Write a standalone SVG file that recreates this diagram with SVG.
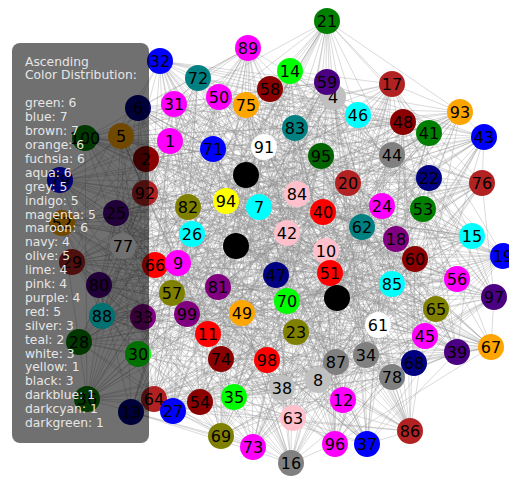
<svg xmlns="http://www.w3.org/2000/svg" width="509" height="477" viewBox="0 0 509 477">
<style>
.e polygon{fill:none;stroke:#8c8c8c;stroke-width:.6;stroke-opacity:.55;stroke-linejoin:round}
.n text{font-family:"DejaVu Sans",sans-serif;font-size:16px;text-anchor:middle;fill:#000}
.lg text{font-family:"DejaVu Sans",sans-serif;font-size:12.3px;fill:#e6e6e6}
.green{fill:#008000}.dkgreen{fill:#006400}.blue{fill:#0000ff}.brown{fill:#b22222}.orange{fill:#ffa500}.mag{fill:#ff00ff}.aqua{fill:#00ffff}.grey{fill:#808080}.indigo{fill:#4b0082}.maroon{fill:#8b0000}.navy{fill:#000080}.olive{fill:#808000}.lime{fill:#00ff00}.pink{fill:#ffc0cb}.purple{fill:#800080}.red{fill:#ff0000}.silver{fill:#c0c0c0}.teal{fill:#008080}.white{fill:#ffffff}.yellow{fill:#ffff00}.black{fill:#000000}
</style>
<rect width="509" height="477" fill="#ffffff"/>
<g id="connectors" class="e">
<polygon points="327,21 290,71 392,84 333,97 138,108 403,122 85,138 170,141 392,155 246,175 348,183 297,194 259,207 323,212 362,227 472,236 236,246 415,259 155,265 457,279 218,287 337,298 242,313 143,317 208,334 491,347 366,355 336,362 318,380 87,399 200,402 293,418 335,444 291,463 160,61 327,82 219,97 174,104 358,115 429,133 484,137 213,149 146,159 429,178 145,193 188,207 423,209 62,223 192,234 123,246 503,256 178,263 276,275 99,285 494,297 436,309 102,316 296,332 79,342 138,354 267,360 392,377 234,397 343,400 131,412 221,436 253,447 248,48 198,78 270,89 246,105 460,112 295,128 121,136 264,147 321,156 60,180 482,183 226,201 382,206 116,213 287,233 396,239 326,251 72,262 330,273 392,284 172,293 287,301 187,314 378,325 425,336 457,352 221,359 414,363 282,388 154,399 173,411 410,431 367,444"/>
<polygon points="327,21 270,89 358,115 170,141 60,180 188,207 362,227 326,251 276,275 337,298 378,325 138,354 318,380 173,411 253,447 327,82 138,108 121,136 146,159 297,194 116,213 123,246 155,265 172,293 102,316 491,347 414,363 343,400 335,444 290,71 246,105 429,133 392,155 482,183 423,209 472,236 72,262 99,285 242,313 425,336 267,360 87,399 410,431 248,48 219,97 403,122 264,147 429,178 259,207 287,233 503,256 457,279 287,301 296,332 366,355 282,388 131,412 291,463 392,84 460,112 484,137 246,175 226,201 62,223 236,246 330,273 494,297 143,317 457,352 392,377 200,402 367,444 198,78 174,104 85,138 321,156 145,193 323,212 396,239 178,263 218,287 187,314 79,342 336,362 154,399 221,436 160,61 333,97 295,128 213,149 348,183 382,206 192,234 415,259 392,284 436,309 208,334 221,359 234,397 293,418"/>
<polygon points="327,21 460,112 146,159 323,212 72,262 436,309 366,355 173,411 198,78 429,133 348,183 287,233 276,275 143,317 414,363 221,436 219,97 170,141 226,201 123,246 218,287 425,336 234,397 291,463 138,108 321,156 423,209 415,259 287,301 138,354 200,402 290,71 295,128 429,178 362,227 330,273 102,316 336,362 410,431 270,89 484,137 297,194 396,239 99,285 208,334 282,388 253,447 174,104 392,155 382,206 503,256 337,298 457,352 343,400 160,61 403,122 60,180 62,223 155,265 187,314 267,360 293,418 392,84 121,136 145,193 472,236 392,284 296,332 318,380 367,444 246,105 213,149 259,207 326,251 494,297 491,347 154,399 248,48 358,115 246,175 116,213 178,263 242,313 221,359 131,412 327,82 85,138 482,183 192,234 457,279 378,325 392,377 335,444 333,97 264,147 188,207 236,246 172,293 79,342 87,399"/>
<polygon points="327,21 170,141 362,227 337,298 318,380 327,82 146,159 123,246 102,316 343,400 246,105 482,183 72,262 425,336 410,431 403,122 259,207 457,279 366,355 291,463 484,137 62,223 494,297 392,377 198,78 321,156 396,239 187,314 154,399 333,97 348,183 415,259 208,334 293,418 358,115 188,207 276,275 138,354 253,447 121,136 116,213 172,293 414,363 290,71 392,155 472,236 242,313 87,399 219,97 429,178 503,256 296,332 131,412 460,112 226,201 330,273 457,352 367,444 85,138 323,212 218,287 336,362 160,61 213,149 192,234 436,309 234,397 270,89 60,180 326,251 378,325 173,411 138,108 297,194 155,265 491,347 335,444 429,133 423,209 99,285 267,360 248,48 264,147 287,233 287,301 282,388 392,84 246,175 236,246 143,317 200,402 174,104 145,193 178,263 79,342 221,436 295,128 382,206 392,284 221,359"/>
<polygon points="327,21 246,175 155,265 336,362 219,97 188,207 494,297 343,400 295,128 287,233 378,325 367,444 392,155 415,259 366,355 327,82 145,193 99,285 234,397 460,112 116,213 187,314 410,431 170,141 236,246 491,347 160,61 429,178 276,275 392,377 246,105 382,206 287,301 173,411 85,138 472,236 208,334 291,463 146,159 178,263 267,360 270,89 226,201 172,293 154,399 403,122 362,227 143,317 335,444 213,149 503,256 138,354 198,78 482,183 392,284 282,388 138,108 323,212 242,313 293,418 484,137 123,246 79,342 248,48 60,180 330,273 414,363 333,97 259,207 337,298 200,402 429,133 192,234 296,332 253,447 321,156 72,262 221,359 392,84 297,194 218,287 87,399 358,115 62,223 102,316 221,436 264,147 326,251 457,352 290,71 348,183 457,279 318,380 174,104 423,209 436,309 131,412 121,136 396,239 425,336"/>
<polygon points="327,21 297,194 242,313 291,463 145,193 436,309 253,447 482,183 287,301 367,444 348,183 337,298 335,444 429,178 494,297 221,436 60,180 172,293 410,431 246,175 218,287 293,418 146,159 99,285 131,412 321,156 392,284 173,411 392,155 457,279 200,402 213,149 276,275 343,400 264,147 330,273 154,399 170,141 155,265 87,399 484,137 178,263 234,397 121,136 72,262 282,388 85,138 415,259 318,380 429,133 503,256 392,377 295,128 326,251 414,363 403,122 236,246 336,362 358,115 123,246 267,360 460,112 396,239 221,359 138,108 472,236 366,355 174,104 192,234 138,354 246,105 287,233 457,352 333,97 362,227 491,347 219,97 62,223 79,342 270,89 116,213 425,336 392,84 323,212 208,334 327,82 423,209 296,332 198,78 382,206 378,325 290,71 259,207 143,317 160,61 188,207 102,316 248,48 226,201 187,314"/>
<polygon points="327,21 323,212 366,355 429,133 276,275 221,436 226,201 425,336 138,108 415,259 200,402 429,178 102,316 270,89 396,239 282,388 392,155 337,298 160,61 62,223 267,360 121,136 392,284 367,444 259,207 491,347 358,115 178,263 131,412 482,183 378,325 333,97 236,246 87,399 146,159 436,309 198,78 287,233 414,363 170,141 218,287 291,463 423,209 138,354 295,128 330,273 410,431 297,194 208,334 174,104 503,256 343,400 60,180 187,314 392,84 472,236 318,380 213,149 494,297 248,48 116,213 221,359 85,138 457,279 335,444 188,207 79,342 460,112 72,262 173,411 348,183 143,317 219,97 123,246 234,397 321,156 287,301 290,71 362,227 336,362 484,137 99,285 253,447 382,206 457,352 403,122 155,265 293,418 145,193 296,332 246,105 326,251 154,399 246,175 242,313 327,82 192,234 392,377 264,147 172,293"/>
<polygon points="327,21 123,246 410,431 62,223 154,399 188,207 414,363 429,178 457,352 213,149 378,325 429,133 287,301 174,104 392,284 327,82 72,262 291,463 396,239 293,418 116,213 87,399 226,201 336,362 60,180 491,347 264,147 143,317 295,128 337,298 246,105 457,279 198,78 415,259 253,447 472,236 131,412 323,212 234,397 297,194 267,360 246,175 79,342 170,141 102,316 403,122 494,297 333,97 276,275 290,71 503,256 367,444 192,234 173,411 423,209 282,388 145,193 221,359 146,159 425,336 484,137 187,314 358,115 172,293 219,97 330,273 160,61 326,251 335,444 287,233 200,402 382,206 318,380 482,183 366,355 321,156 208,334 121,136 242,313 460,112 218,287 270,89 155,265 248,48 236,246 221,436 362,227 343,400 259,207 392,377 348,183 138,354 392,155 296,332 85,138 436,309 138,108 99,285 392,84 178,263"/>
<polygon points="327,21 174,104 264,147 297,194 192,234 330,273 242,313 138,354 154,399 291,463 246,105 170,141 145,193 287,233 155,265 436,309 457,352 87,399 253,447 333,97 484,137 482,183 362,227 178,263 287,301 491,347 234,397 367,444 219,97 121,136 348,183 62,223 72,262 337,298 79,342 282,388 335,444 270,89 85,138 429,178 116,213 415,259 494,297 425,336 318,380 221,436 392,84 429,133 60,180 323,212 503,256 172,293 208,334 392,377 410,431 327,82 295,128 246,175 423,209 326,251 218,287 296,332 414,363 293,418 198,78 403,122 146,159 382,206 236,246 99,285 378,325 336,362 131,412 290,71 358,115 321,156 259,207 123,246 392,284 143,317 267,360 173,411 160,61 460,112 392,155 188,207 396,239 457,279 102,316 221,359 200,402 248,48 138,108 213,149 226,201 472,236 276,275 187,314 366,355 343,400"/>
<polygon points="327,21 429,133 226,201 415,259 102,316 282,388 160,61 121,136 259,207 178,263 378,325 87,399 198,78 170,141 423,209 330,273 208,334 343,400 392,84 213,149 116,213 457,279 79,342 173,411 219,97 321,156 362,227 99,285 457,352 293,418 246,105 246,175 192,234 172,293 366,355 221,436 138,108 429,178 396,239 337,298 267,360 367,444 358,115 482,183 236,246 436,309 414,363 291,463 295,128 297,194 503,256 187,314 318,380 248,48 85,138 188,207 72,262 143,317 234,397 290,71 484,137 382,206 155,265 296,332 154,399 327,82 264,147 323,212 276,275 425,336 200,402 270,89 392,155 62,223 392,284 491,347 131,412 333,97 146,159 287,233 218,287 138,354 410,431 174,104 60,180 472,236 494,297 221,359 335,444 460,112 348,183 123,246 287,301 336,362 253,447 403,122 145,193 326,251 242,313 392,377"/>
<polygon points="327,21 287,233 234,397 429,178 208,334 403,122 392,284 248,48 192,234 87,399 348,183 425,336 295,128 99,285 160,61 472,236 154,399 482,183 79,342 429,133 218,287 290,71 396,239 343,400 145,193 491,347 85,138 172,293 198,78 123,246 200,402 297,194 457,352 121,136 494,297 327,82 236,246 173,411 226,201 138,354 484,137 337,298 392,84 326,251 131,412 188,207 366,355 170,141 287,301 270,89 503,256 293,418 259,207 221,359 264,147 436,309 219,97 415,259 410,431 382,206 267,360 213,149 242,313 333,97 72,262 221,436 423,209 336,362 392,155 187,314 246,105 178,263 335,444 323,212 414,363 321,156 102,316 174,104 155,265 367,444 116,213 392,377 146,159 143,317 138,108 330,273 253,447 62,223 318,380 246,175 378,325 460,112 276,275 291,463 362,227 282,388 60,180 296,332 358,115 457,279"/>
<polygon points="327,21 482,183 494,297 293,418 392,155 330,273 234,397 429,133 236,246 221,359 246,105 62,223 208,334 290,71 226,201 436,309 335,444 246,175 392,284 343,400 484,137 415,259 414,363 460,112 192,234 491,347 392,84 382,206 102,316 291,463 348,183 172,293 131,412 213,149 155,265 282,388 295,128 123,246 366,355 333,97 116,213 296,332 160,61 297,194 287,301 221,436 146,159 457,279 154,399 121,136 503,256 336,362 138,108 287,233 79,342 327,82 259,207 187,314 253,447 429,178 218,287 173,411 264,147 178,263 318,380 403,122 396,239 138,354 219,97 323,212 378,325 248,48 145,193 337,298 410,431 321,156 276,275 87,399 85,138 326,251 267,360 174,104 362,227 425,336 198,78 188,207 242,313 367,444 60,180 99,285 200,402 170,141 72,262 392,377 358,115 472,236 457,352 270,89 423,209 143,317"/>
</g>
<g id="nodes">
<g id="n21" class="n"><circle class="green" cx="327" cy="21" r="13"/><text x="327" y="27">21</text></g>
<g id="n89" class="n"><circle class="mag" cx="248" cy="48" r="13"/><text x="248" y="54">89</text></g>
<g id="n32" class="n"><circle class="blue" cx="160" cy="61" r="13"/><text x="160" y="67">32</text></g>
<g id="n14" class="n"><circle class="lime" cx="290" cy="71" r="13"/><text x="290" y="77">14</text></g>
<g id="n72" class="n"><circle class="teal" cx="198" cy="78" r="13"/><text x="198" y="84">72</text></g>
<g id="n4" class="n"><circle class="silver" cx="333" cy="97" r="13"/><text x="333" y="103">4</text></g>
<g id="n59" class="n"><circle class="indigo" cx="327" cy="82" r="13"/><text x="327" y="88">59</text></g>
<g id="n17" class="n"><circle class="brown" cx="392" cy="84" r="13"/><text x="392" y="90">17</text></g>
<g id="n58" class="n"><circle class="maroon" cx="270" cy="89" r="13"/><text x="270" y="95">58</text></g>
<g id="n50" class="n"><circle class="mag" cx="219" cy="97" r="13"/><text x="219" y="103">50</text></g>
<g id="n75" class="n"><circle class="orange" cx="246" cy="105" r="13"/><text x="246" y="111">75</text></g>
<g id="n31" class="n"><circle class="mag" cx="174" cy="104" r="13"/><text x="174" y="110">31</text></g>
<g id="n6" class="n"><circle class="navy" cx="138" cy="108" r="13"/><text x="138" y="114">6</text></g>
<g id="n93" class="n"><circle class="orange" cx="460" cy="112" r="13"/><text x="460" y="118">93</text></g>
<g id="n46" class="n"><circle class="aqua" cx="358" cy="115" r="13"/><text x="358" y="121">46</text></g>
<g id="n48" class="n"><circle class="maroon" cx="403" cy="122" r="13"/><text x="403" y="128">48</text></g>
<g id="n83" class="n"><circle class="teal" cx="295" cy="128" r="13"/><text x="295" y="134">83</text></g>
<g id="n41" class="n"><circle class="green" cx="429" cy="133" r="13"/><text x="429" y="139">41</text></g>
<g id="n100" class="n"><circle class="green" cx="85" cy="138" r="13"/><text x="85" y="144">100</text></g>
<g id="n5" class="n"><circle class="orange" cx="121" cy="136" r="13"/><text x="121" y="142">5</text></g>
<g id="n43" class="n"><circle class="blue" cx="484" cy="137" r="13"/><text x="484" y="143">43</text></g>
<g id="n1" class="n"><circle class="mag" cx="170" cy="141" r="13"/><text x="170" y="147">1</text></g>
<g id="n91" class="n"><circle class="white" cx="264" cy="147" r="13"/><text x="264" y="153">91</text></g>
<g id="n71" class="n"><circle class="blue" cx="213" cy="149" r="13"/><text x="213" y="155">71</text></g>
<g id="n44" class="n"><circle class="grey" cx="392" cy="155" r="13"/><text x="392" y="161">44</text></g>
<g id="n95" class="n"><circle class="dkgreen" cx="321" cy="156" r="13"/><text x="321" y="162">95</text></g>
<g id="n2" class="n"><circle class="maroon" cx="146" cy="159" r="13"/><text x="146" y="165">2</text></g>
<g id="n3" class="n"><circle class="black" cx="246" cy="175" r="13"/></g>
<g id="n79" class="n"><circle class="blue" cx="60" cy="180" r="13"/><text x="60" y="186">79</text></g>
<g id="n22" class="n"><circle class="navy" cx="429" cy="178" r="13"/><text x="429" y="184">22</text></g>
<g id="n20" class="n"><circle class="brown" cx="348" cy="183" r="13"/><text x="348" y="189">20</text></g>
<g id="n76" class="n"><circle class="brown" cx="482" cy="183" r="13"/><text x="482" y="189">76</text></g>
<g id="n92" class="n"><circle class="brown" cx="145" cy="193" r="13"/><text x="145" y="199">92</text></g>
<g id="n84" class="n"><circle class="pink" cx="297" cy="194" r="13"/><text x="297" y="200">84</text></g>
<g id="n94" class="n"><circle class="yellow" cx="226" cy="201" r="13"/><text x="226" y="207">94</text></g>
<g id="n82" class="n"><circle class="olive" cx="188" cy="207" r="13"/><text x="188" y="213">82</text></g>
<g id="n7" class="n"><circle class="aqua" cx="259" cy="207" r="13"/><text x="259" y="213">7</text></g>
<g id="n24" class="n"><circle class="mag" cx="382" cy="206" r="13"/><text x="382" y="212">24</text></g>
<g id="n53" class="n"><circle class="green" cx="423" cy="209" r="13"/><text x="423" y="215">53</text></g>
<g id="n40" class="n"><circle class="red" cx="323" cy="212" r="13"/><text x="323" y="218">40</text></g>
<g id="n25" class="n"><circle class="indigo" cx="116" cy="213" r="13"/><text x="116" y="219">25</text></g>
<g id="n52" class="n"><circle class="orange" cx="62" cy="223" r="13"/><text x="62" y="229">52</text></g>
<g id="n62" class="n"><circle class="teal" cx="362" cy="227" r="13"/><text x="362" y="233">62</text></g>
<g id="n42" class="n"><circle class="pink" cx="287" cy="233" r="13"/><text x="287" y="239">42</text></g>
<g id="n26" class="n"><circle class="aqua" cx="192" cy="234" r="13"/><text x="192" y="240">26</text></g>
<g id="n15" class="n"><circle class="aqua" cx="472" cy="236" r="13"/><text x="472" y="242">15</text></g>
<g id="n18" class="n"><circle class="purple" cx="396" cy="239" r="13"/><text x="396" y="245">18</text></g>
<g id="n77" class="n"><circle class="white" cx="123" cy="246" r="13"/><text x="123" y="252">77</text></g>
<g id="n55" class="n"><circle class="black" cx="236" cy="246" r="13"/></g>
<g id="n10" class="n"><circle class="pink" cx="326" cy="251" r="13"/><text x="326" y="257">10</text></g>
<g id="n19" class="n"><circle class="blue" cx="503" cy="256" r="13"/><text x="503" y="262">19</text></g>
<g id="n60" class="n"><circle class="maroon" cx="415" cy="259" r="13"/><text x="415" y="265">60</text></g>
<g id="n29" class="n"><circle class="brown" cx="72" cy="262" r="13"/><text x="72" y="268">29</text></g>
<g id="n66" class="n"><circle class="red" cx="155" cy="265" r="13"/><text x="155" y="271">66</text></g>
<g id="n9" class="n"><circle class="mag" cx="178" cy="263" r="13"/><text x="178" y="269">9</text></g>
<g id="n51" class="n"><circle class="red" cx="330" cy="273" r="13"/><text x="330" y="279">51</text></g>
<g id="n47" class="n"><circle class="navy" cx="276" cy="275" r="13"/><text x="276" y="281">47</text></g>
<g id="n56" class="n"><circle class="mag" cx="457" cy="279" r="13"/><text x="457" y="285">56</text></g>
<g id="n85" class="n"><circle class="aqua" cx="392" cy="284" r="13"/><text x="392" y="290">85</text></g>
<g id="n80" class="n"><circle class="indigo" cx="99" cy="285" r="13"/><text x="99" y="291">80</text></g>
<g id="n81" class="n"><circle class="purple" cx="218" cy="287" r="13"/><text x="218" y="293">81</text></g>
<g id="n57" class="n"><circle class="olive" cx="172" cy="293" r="13"/><text x="172" y="299">57</text></g>
<g id="n97" class="n"><circle class="indigo" cx="494" cy="297" r="13"/><text x="494" y="303">97</text></g>
<g id="n90" class="n"><circle class="black" cx="337" cy="298" r="13"/></g>
<g id="n70" class="n"><circle class="lime" cx="287" cy="301" r="13"/><text x="287" y="307">70</text></g>
<g id="n65" class="n"><circle class="olive" cx="436" cy="309" r="13"/><text x="436" y="315">65</text></g>
<g id="n49" class="n"><circle class="orange" cx="242" cy="313" r="13"/><text x="242" y="319">49</text></g>
<g id="n99" class="n"><circle class="purple" cx="187" cy="314" r="13"/><text x="187" y="320">99</text></g>
<g id="n88" class="n"><circle class="aqua" cx="102" cy="316" r="13"/><text x="102" y="322">88</text></g>
<g id="n33" class="n"><circle class="purple" cx="143" cy="317" r="13"/><text x="143" y="323">33</text></g>
<g id="n61" class="n"><circle class="white" cx="378" cy="325" r="13"/><text x="378" y="331">61</text></g>
<g id="n23" class="n"><circle class="olive" cx="296" cy="332" r="13"/><text x="296" y="338">23</text></g>
<g id="n11" class="n"><circle class="red" cx="208" cy="334" r="13"/><text x="208" y="340">11</text></g>
<g id="n45" class="n"><circle class="mag" cx="425" cy="336" r="13"/><text x="425" y="342">45</text></g>
<g id="n28" class="n"><circle class="green" cx="79" cy="342" r="13"/><text x="79" y="348">28</text></g>
<g id="n67" class="n"><circle class="orange" cx="491" cy="347" r="13"/><text x="491" y="353">67</text></g>
<g id="n39" class="n"><circle class="indigo" cx="457" cy="352" r="13"/><text x="457" y="358">39</text></g>
<g id="n30" class="n"><circle class="lime" cx="138" cy="354" r="13"/><text x="138" y="360">30</text></g>
<g id="n74" class="n"><circle class="maroon" cx="221" cy="359" r="13"/><text x="221" y="365">74</text></g>
<g id="n98" class="n"><circle class="red" cx="267" cy="360" r="13"/><text x="267" y="366">98</text></g>
<g id="n87" class="n"><circle class="grey" cx="336" cy="362" r="13"/><text x="336" y="368">87</text></g>
<g id="n34" class="n"><circle class="grey" cx="366" cy="355" r="13"/><text x="366" y="361">34</text></g>
<g id="n68" class="n"><circle class="navy" cx="414" cy="363" r="13"/><text x="414" y="369">68</text></g>
<g id="n78" class="n"><circle class="grey" cx="392" cy="377" r="13"/><text x="392" y="383">78</text></g>
<g id="n8" class="n"><circle class="silver" cx="318" cy="380" r="13"/><text x="318" y="386">8</text></g>
<g id="n38" class="n"><circle class="silver" cx="282" cy="388" r="13"/><text x="282" y="394">38</text></g>
<g id="n35" class="n"><circle class="lime" cx="234" cy="397" r="13"/><text x="234" y="403">35</text></g>
<g id="n36" class="n"><circle class="green" cx="87" cy="399" r="13"/><text x="87" y="405">36</text></g>
<g id="n64" class="n"><circle class="brown" cx="154" cy="399" r="13"/><text x="154" y="405">64</text></g>
<g id="n12" class="n"><circle class="mag" cx="343" cy="400" r="13"/><text x="343" y="406">12</text></g>
<g id="n54" class="n"><circle class="maroon" cx="200" cy="402" r="13"/><text x="200" y="408">54</text></g>
<g id="n27" class="n"><circle class="blue" cx="173" cy="411" r="13"/><text x="173" y="417">27</text></g>
<g id="n13" class="n"><circle class="navy" cx="131" cy="412" r="13"/><text x="131" y="418">13</text></g>
<g id="n63" class="n"><circle class="pink" cx="293" cy="418" r="13"/><text x="293" y="424">63</text></g>
<g id="n86" class="n"><circle class="brown" cx="410" cy="431" r="13"/><text x="410" y="437">86</text></g>
<g id="n69" class="n"><circle class="olive" cx="221" cy="436" r="13"/><text x="221" y="442">69</text></g>
<g id="n96" class="n"><circle class="mag" cx="335" cy="444" r="13"/><text x="335" y="450">96</text></g>
<g id="n37" class="n"><circle class="blue" cx="367" cy="444" r="13"/><text x="367" y="450">37</text></g>
<g id="n73" class="n"><circle class="mag" cx="253" cy="447" r="13"/><text x="253" y="453">73</text></g>
<g id="n16" class="n"><circle class="grey" cx="291" cy="463" r="13"/><text x="291" y="469">16</text></g>
</g>
<g id="legend" class="lg">
<rect x="12" y="43" width="137" height="400" rx="8" fill="#000" fill-opacity="0.56"/>
<text x="25" y="65.5">Ascending</text>
<text x="25" y="79.4">Color Distribution:</text>
<text x="25" y="107.3">green: 6</text>
<text x="25" y="121.2">blue: 7</text>
<text x="25" y="135.1">brown: 7</text>
<text x="25" y="149">orange: 6</text>
<text x="25" y="162.9">fuchsia: 6</text>
<text x="25" y="176.8">aqua: 6</text>
<text x="25" y="190.7">grey: 5</text>
<text x="25" y="204.6">indigo: 5</text>
<text x="25" y="218.5">magenta: 5</text>
<text x="25" y="232.4">maroon: 6</text>
<text x="25" y="246.3">navy: 4</text>
<text x="25" y="260.2">olive: 5</text>
<text x="25" y="274.1">lime: 4</text>
<text x="25" y="288">pink: 4</text>
<text x="25" y="301.9">purple: 4</text>
<text x="25" y="315.8">red: 5</text>
<text x="25" y="329.7">silver: 3</text>
<text x="25" y="343.6">teal: 2</text>
<text x="25" y="357.5">white: 3</text>
<text x="25" y="371.4">yellow: 1</text>
<text x="25" y="385.3">black: 3</text>
<text x="25" y="399.2">darkblue: 1</text>
<text x="25" y="413.1">darkcyan: 1</text>
<text x="25" y="427">darkgreen: 1</text>
</g>
</svg>
